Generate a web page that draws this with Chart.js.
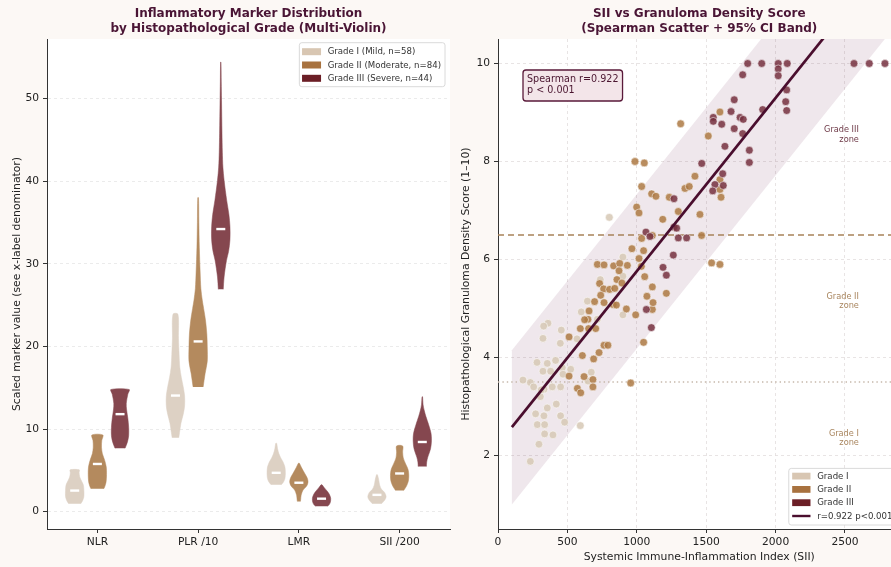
<!DOCTYPE html>
<html>
<head>
<meta charset="utf-8">
<script src="https://cdn.jsdelivr.net/npm/chart.js@4.4.1/dist/chart.umd.min.js"></script>
<style>
  html, body { margin: 0; padding: 0; background: #fcf8f5; overflow: hidden; }
  #wrap { position: relative; width: 891px; height: 567px; overflow: hidden; }
  canvas { position: absolute; top: 0; }
  #violin { left: 0; }
  #scatter { left: 455px; }
</style>
</head>
<body>
<div id="wrap">
  <canvas id="violin" width="460" height="567"></canvas>
  <canvas id="scatter" width="455" height="567"></canvas>
</div>
<script>
// ---------- left panel data ----------
const categories = ['NLR', 'PLR /10', 'LMR', 'SII /200'];
const gradeLabels = ['Grade I (Mild, n=58)', 'Grade II (Moderate, n=84)', 'Grade III (Severe, n=44)'];
const yTicksLeft = [0, 10, 20, 30, 40, 50];

// violin outline: [value, relative half width], top -> bottom
const nlrProfiles = [
  [[5.06,0.5],[4.7,0.48],[4.2,0.55],[3.7,0.75],[3.2,0.95],[2.6,1.0],[1.8,1.0],[1.3,0.85],[0.95,0.65]],
  [[9.28,0.6],[8.6,0.48],[7.8,0.45],[7.0,0.55],[6.2,0.8],[5.4,0.97],[4.5,1.0],[3.6,0.95],[3.0,0.8],[2.77,0.7]],
  [[14.78,1.0],[14.2,0.85],[13.1,0.68],[12.3,0.72],[11.3,0.85],[10.2,0.94],[9.2,0.94],[8.4,0.8],[7.67,0.55]]
];
const plrProfiles = [
  [[23.9,0.27],[21,0.33],[19,0.4],[17.5,0.47],[16.2,0.65],[15.1,0.85],[14,1.0],[12.8,1.0],[11.8,0.85],[10.7,0.6],[9.6,0.45],[8.95,0.36]],
  [[38.0,0.04],[35,0.08],[32,0.13],[29,0.22],[27,0.3],[25.6,0.45],[24.6,0.6],[23.2,0.8],[21.5,0.95],[19.8,1.0],[18.2,1.0],[16.7,0.76],[15.1,0.55]],
  [[54.4,0.02],[52,0.05],[49.8,0.08],[45.8,0.13],[43.5,0.17],[41.7,0.23],[40.1,0.36],[37.7,0.64],[36,0.88],[34.5,1.0],[32.9,1.0],[31.5,0.85],[30.4,0.62],[28.4,0.36],[26.9,0.27]]
];
const lmrProfiles = [
  [[8.27,0.05],[7.6,0.15],[7.0,0.3],[6.5,0.5],[6.0,0.75],[5.4,0.95],[4.7,1.0],[4.0,0.95],[3.6,0.8],[3.25,0.55]],
  [[5.86,0.05],[5.3,0.3],[4.7,0.6],[4.1,0.9],[3.6,1.0],[3.1,0.85],[2.6,0.45],[2.0,0.25],[1.5,0.2],[1.24,0.17]],
  [[3.25,0.05],[2.9,0.3],[2.5,0.6],[2.1,0.85],[1.6,1.0],[1.1,0.95],[0.8,0.8],[0.64,0.6]]
];
const siiProfiles = [
  [[4.46,0.05],[3.8,0.2],[3.2,0.3],[2.7,0.5],[2.3,0.85],[1.8,1.0],[1.4,0.85],[0.96,0.5]],
  [[7.95,0.33],[7.2,0.33],[6.5,0.4],[5.8,0.65],[5.1,0.92],[4.4,1.0],[3.7,0.95],[3.1,0.75],[2.57,0.45]],
  [[13.9,0.03],[13,0.08],[12.3,0.2],[11.5,0.4],[10.5,0.7],[9.5,0.95],[8.6,1.0],[7.6,0.9],[6.6,0.6],[6.0,0.48],[5.46,0.45]]
];
const nlrMedians = [2.55, 5.77, 11.8];
const plrMedians = [14.05, 20.6, 34.2];
const lmrMedians = [4.7, 3.5, 1.57];
const siiMedians = [2.03, 4.62, 8.43];

// ---------- right panel data ----------
// [SII, score]
const grade1Points = [
  [900,6.05],[737,5.59],[900,5.66],[644,5.15],[600,4.93],[716,4.78],[900,4.87],[360,4.70],[329,4.64],[456,4.56],
  [324,4.39],[449,4.29],[569,4.38],[281,3.90],[355,3.88],[415,3.94],[324,3.72],[379,3.72],[463,3.79],[524,3.76],
  [468,3.66],[672,3.70],[648,3.52],[180,3.54],[233,3.49],[257,3.40],[331,3.35],[391,3.40],[451,3.40],[305,3.20],
  [312,3.34],[355,2.97],[420,3.05],[271,2.85],[331,2.81],[451,2.81],[480,2.68],[283,2.63],[336,2.63],[593,2.61],
  [336,2.44],[396,2.42],[295,2.23],[233,1.88],[802,6.86]
];
const grade2Points = [
  [965,6.22],[1049,6.18],[716,5.90],[764,5.89],[833,5.87],[877,5.92],[932,5.88],[872,5.77],[1016,6.02],[1033,5.86],
  [732,5.51],[761,5.40],[804,5.39],[841,5.41],[857,5.59],[893,5.52],[1057,5.65],[1112,5.44],[1213,5.31],[740,5.27],
  [764,5.12],[829,5.08],[853,5.07],[696,5.14],[656,4.95],[648,4.78],[624,4.77],[593,4.59],[653,4.59],[704,4.59],
  [925,4.99],[992,4.87],[1112,4.98],[1073,5.25],[1117,5.12],[1049,4.31],[512,4.42],[764,4.25],[792,4.25],[728,4.10],
  [608,4.04],[689,3.97],[512,3.62],[620,3.61],[684,3.55],[572,3.37],[596,3.28],[684,3.40],[956,3.48],
  [1316,8.77],[987,8.0],[1054,7.97],[1419,7.70],[1035,7.49],[1107,7.34],[1138,7.29],[1347,7.45],[1378,7.49],[1234,7.27],
  [999,7.07],[1016,6.95],[1299,6.98],[1455,6.92],[1187,6.82],[1112,6.49],[1035,6.43],[1467,6.49],[1539,5.93],[1599,5.90],
  [1599,9.01],[1515,8.52],[1599,7.63],[1599,7.43],[1607,7.27]
];
const grade3Points = [
  [1189,5.84],[1213,5.68],[1069,4.98],[1105,4.61],
  [1268,7.24],[1066,6.56],[1095,6.47],[1268,6.66],[1287,6.64],[1299,6.44],[1359,6.44],[1263,6.09],
  [1799,10],[1900,10],[2019,10],[2084,10],[2565,10],[2675,10],[2788,10],[2019,9.89],[1763,9.77],[2019,9.75],
  [2080,9.46],[2073,9.22],[2080,9.04],[1702,9.26],[1907,9.06],[1679,9.02],[1551,8.90],[1551,8.82],[1612,8.76],
  [1744,8.90],[1767,8.86],[1702,8.67],[1763,8.57],[1635,8.31],[1811,8.23],[1811,7.98],[1468,7.96],[1619,7.75],
  [1563,7.53],[1623,7.51],[1547,7.40]
];
const fitSii = [100, 2790];
const fitScore = [2.58, 12.09];
const bandLow = [1.0, 10.51];
const bandHigh = [4.15, 13.66];
const thresholdScores = [6.5, 3.5];
const zoneNames = [['Grade III', 'zone'], ['Grade II', 'zone'], ['Grade I', 'zone']];
const zoneScores = [8.54, 5.14, 2.35];
const zoneSii = 2600;
const xTicksRight = [0, 500, 1000, 1500, 2000, 2500];
const yTicksRight = [2, 4, 6, 8, 10];
const scatterLegend = ['Grade I', 'Grade II', 'Grade III', 'r=0.922 p<0.001'];
const statText = ['Spearman r=0.922', 'p < 0.001'];

// ---------- styles ----------
const FONT = '"DejaVu Sans", sans-serif';
const TITLE_COLOR = '#4a1535';
const TICK_SIZE = 10.7;
const LABEL_SIZE = 10.8;
const swatch = ['#d8c6b2', '#a8723f', '#6b1e26'];
const violinFill = ['#ddd1c4', '#b48a5e', '#85474f'];
const pointFill = ['rgba(214,200,181,0.85)', 'rgba(173,121,67,0.85)', 'rgba(118,48,64,0.85)'];
const zoneColors = ['#6e3a48', '#a9865f', '#a9865f'];
const gradeOffsets = [-0.225, 0, 0.225];
const VIOLIN_HALF = 0.091;

Chart.defaults.font.family = FONT;
Chart.defaults.color = '#222';
Chart.defaults.animation = false;

const plotBg = {
  id: 'plotBg',
  beforeDraw(chart) {
    const { ctx, chartArea: a } = chart;
    ctx.save();
    ctx.fillStyle = '#ffffff';
    ctx.fillRect(a.left, a.top, a.width, a.height);
    ctx.restore();
  }
};

function drawLegend(ctx, items, o) {
  ctx.save();
  ctx.font = o.fontSize + 'px ' + FONT;
  const textW = Math.max(...items.map(it => ctx.measureText(it.label).width));
  const w = o.padL + o.swW + o.gap + textW + o.padR;
  const h = o.padT + o.rowH * (items.length - 1) + o.padB;
  const x = o.right - w;
  const y = o.top !== undefined ? o.top : o.bottom - h;
  ctx.beginPath();
  ctx.roundRect(x, y, w, h, 2.5);
  ctx.fillStyle = 'rgba(255,255,255,0.85)';
  ctx.fill();
  ctx.strokeStyle = '#d0d0d0';
  ctx.lineWidth = 0.8;
  ctx.stroke();
  ctx.textBaseline = 'middle';
  items.forEach((it, i) => {
    const cy = y + o.padT + i * o.rowH;
    if (it.kind === 'line') {
      ctx.strokeStyle = it.color;
      ctx.lineWidth = 2.4;
      ctx.beginPath();
      ctx.moveTo(x + o.padL, cy);
      ctx.lineTo(x + o.padL + o.swW, cy);
      ctx.stroke();
    } else {
      ctx.fillStyle = it.color;
      ctx.fillRect(x + o.padL, cy - o.swH / 2, o.swW, o.swH);
    }
    ctx.fillStyle = '#333';
    ctx.fillText(it.label, x + o.padL + o.swW + o.gap, cy + 0.5);
  });
  ctx.restore();
}

const violinLegend = {
  id: 'violinLegend',
  afterDraw(chart) {
    const a = chart.chartArea;
    drawLegend(chart.ctx, gradeLabels.map((l, i) => ({ label: l, color: swatch[i] })), {
      right: a.right - 5, top: a.top + 3.7, fontSize: 8.6,
      padL: 2.7, swW: 19, swH: 7, gap: 6.6, padR: 4, padT: 9, rowH: 13.3, padB: 8.4
    });
  }
};

const scatterNotes = {
  id: 'scatterNotes',
  afterDraw(chart) {
    const { ctx, chartArea: a, scales } = chart;
    ctx.save();
    // zone labels
    ctx.font = '8.2px ' + FONT;
    ctx.textAlign = 'right';
    ctx.textBaseline = 'middle';
    zoneNames.forEach((lines, i) => {
      const px = scales.x.getPixelForValue(zoneSii);
      const py = scales.y.getPixelForValue(zoneScores[i]);
      ctx.fillStyle = zoneColors[i];
      ctx.fillText(lines[0], px, py - 4.7);
      ctx.fillText(lines[1], px, py + 4.7);
    });
    // Spearman box
    ctx.font = '9.6px ' + FONT;
    ctx.textAlign = 'left';
    const tw = Math.max(...statText.map(t => ctx.measureText(t).width));
    const bx = a.left + 25, by = a.top + 31, bw = tw + 8, bh = 31;
    ctx.beginPath();
    ctx.roundRect(bx, by, bw, bh, 3);
    ctx.fillStyle = '#f3e5e9';
    ctx.fill();
    ctx.strokeStyle = '#5a1a3a';
    ctx.lineWidth = 1.3;
    ctx.stroke();
    ctx.fillStyle = '#4a1530';
    ctx.fillText(statText[0], bx + 4, by + 9.5);
    ctx.fillText(statText[1], bx + 4, by + 20.5);
    ctx.restore();

    drawLegend(ctx, scatterLegend.map((l, i) => ({
      label: l, color: i < 3 ? swatch[i] : '#4a0e2e', kind: i < 3 ? 'box' : 'line'
    })), {
      right: a.right - 4, bottom: a.bottom - 4, fontSize: 8.6,
      padL: 3.4, swW: 18.3, swH: 6.8, gap: 6.7, padR: 4, padT: 7.7, rowH: 13.3, padB: 9
    });
  }
};

// ---------- left chart ----------
function violinOutline(profile, cx) {
  const right = profile.slice().reverse().map(([v, w]) => ({ x: cx + w * VIOLIN_HALF, y: v }));
  const left = profile.map(([v, w]) => ({ x: cx - w * VIOLIN_HALF, y: v }));
  return right.concat(left);
}

const allProfiles = [nlrProfiles, plrProfiles, lmrProfiles, siiProfiles];
const allMedians = [nlrMedians, plrMedians, lmrMedians, siiMedians];
const violinSets = [];
allProfiles.forEach((group, c) => {
  group.forEach((profile, g) => {
    violinSets.push({
      type: 'line',
      data: violinOutline(profile, c + gradeOffsets[g]),
      backgroundColor: violinFill[g],
      borderColor: violinFill[g],
      borderWidth: 0.5,
      fill: 'shape',
      tension: 0.3,
      pointRadius: 0,
      order: 2
    });
  });
});
violinSets.push({
  type: 'scatter',
  data: allMedians.flatMap((m, c) => m.map((v, g) => ({ x: c + gradeOffsets[g], y: v }))),
  pointStyle: 'line',
  pointRadius: 4.5,
  pointBorderColor: '#ffffff',
  pointBorderWidth: 2.4,
  order: 0
});

const titleFont = { size: 12, weight: 'bold', lineHeight: 1.2 };

new Chart(document.getElementById('violin'), {
  type: 'scatter',
  data: { datasets: violinSets },
  plugins: [plotBg, violinLegend],
  options: {
    responsive: false,
    events: [],
    layout: { padding: { top: 0, left: 0, right: 10, bottom: 0 } },
    plugins: {
      legend: { display: false },
      tooltip: { enabled: false },
      title: {
        display: true, fullSize: false,
        text: ['Inflammatory Marker Distribution', 'by Histopathological Grade (Multi-Violin)'],
        color: TITLE_COLOR, font: titleFont,
        padding: { top: 6.8, bottom: 3.4 }
      }
    },
    scales: {
      x: {
        type: 'linear', min: -0.5, max: 3.5,
        afterBuildTicks: ax => { ax.ticks = categories.map((c, i) => ({ value: i })); },
        afterFit: s => { s.height = 38; },
        ticks: { callback: v => categories[v], font: { size: TICK_SIZE }, padding: 3, color: '#222' },
        grid: { display: true, drawOnChartArea: false, tickLength: 4, tickColor: '#333', tickWidth: 1 },
        border: { display: true, color: '#333', width: 1 }
      },
      y: {
        type: 'linear', min: -2.1, max: 57.2,
        afterBuildTicks: ax => { ax.ticks = yTicksLeft.map(v => ({ value: v })); },
        afterFit: s => { s.width = 47; },
        ticks: { font: { size: TICK_SIZE }, padding: 4, color: '#222' },
        grid: { color: '#e6e6e6', lineWidth: 0.8, tickLength: 4, tickColor: '#333', tickWidth: 1, tickBorderDash: [] },
        border: { display: true, color: '#333', width: 1, dash: [3, 3] },
        title: {
          display: true, text: 'Scaled marker value (see x-label denominator)',
          font: { size: LABEL_SIZE }, color: '#222', padding: { top: 10.5, bottom: 0 }
        }
      }
    }
  }
});

// ---------- right chart ----------
const toXY = pts => pts.map(([x, y]) => ({ x, y }));

new Chart(document.getElementById('scatter'), {
  type: 'scatter',
  data: {
    datasets: [
      {
        type: 'line',
        data: [
          { x: fitSii[0], y: bandLow[0] }, { x: fitSii[1], y: bandLow[1] },
          { x: fitSii[1], y: bandHigh[1] }, { x: fitSii[0], y: bandHigh[0] }
        ],
        fill: 'shape', backgroundColor: 'rgba(110,40,80,0.11)',
        borderWidth: 0, borderColor: 'rgba(0,0,0,0)', pointRadius: 0, order: 10
      },
      {
        type: 'line',
        data: [{ x: 0, y: thresholdScores[0] }, { x: 2900, y: thresholdScores[0] }],
        borderColor: '#a8835a', borderWidth: 1.4, borderDash: [6, 4], pointRadius: 0, order: 8, clip: 0
      },
      {
        type: 'line',
        data: [{ x: 0, y: thresholdScores[1] }, { x: 2900, y: thresholdScores[1] }],
        borderColor: '#c6b8aa', borderWidth: 1.3, borderDash: [1.4, 3], pointRadius: 0, order: 8, clip: 0
      },
      {
        data: toXY(grade1Points), pointRadius: 3.9, pointBackgroundColor: pointFill[0],
        pointBorderColor: 'rgba(255,255,255,0.9)', pointBorderWidth: 0.6, order: 5
      },
      {
        data: toXY(grade2Points), pointRadius: 3.9, pointBackgroundColor: pointFill[1],
        pointBorderColor: 'rgba(255,255,255,0.9)', pointBorderWidth: 0.6, order: 4
      },
      {
        data: toXY(grade3Points), pointRadius: 3.9, pointBackgroundColor: pointFill[2],
        pointBorderColor: 'rgba(255,255,255,0.9)', pointBorderWidth: 0.6, order: 3
      },
      {
        type: 'line',
        data: [{ x: fitSii[0], y: fitScore[0] }, { x: fitSii[1], y: fitScore[1] }],
        borderColor: '#4a0e2e', borderWidth: 2.7, pointRadius: 0, order: 1, clip: 0
      }
    ]
  },
  plugins: [plotBg, scatterNotes],
  options: {
    responsive: false,
    events: [],
    layout: { padding: { top: 0, left: 0, right: 9.5, bottom: 0 } },
    plugins: {
      legend: { display: false },
      tooltip: { enabled: false },
      title: {
        display: true, fullSize: false,
        text: ['SII vs Granuloma Density Score', '(Spearman Scatter + 95% CI Band)'],
        color: TITLE_COLOR, font: titleFont,
        padding: { top: 6.8, bottom: 3.4 }
      }
    },
    scales: {
      x: {
        type: 'linear', min: 0, max: 2900,
        afterBuildTicks: ax => { ax.ticks = xTicksRight.map(v => ({ value: v })); },
        afterFit: s => { s.height = 38; },
        ticks: { callback: v => String(v), font: { size: TICK_SIZE }, padding: 3, color: '#222' },
        grid: { color: '#e2dede', lineWidth: 0.8, tickLength: 4, tickColor: '#333', tickWidth: 1, tickBorderDash: [] },
        border: { display: true, color: '#333', width: 1, dash: [3, 3] },
        title: {
          display: true, text: 'Systemic Immune-Inflammation Index (SII)',
          font: { size: LABEL_SIZE }, color: '#222', padding: { top: 0, bottom: 3.2 }
        }
      },
      y: {
        type: 'linear', min: 0.5, max: 10.5,
        afterBuildTicks: ax => { ax.ticks = yTicksRight.map(v => ({ value: v })); },
        afterFit: s => { s.width = 43; },
        ticks: { font: { size: TICK_SIZE }, padding: 4, color: '#222' },
        grid: { color: '#e2dede', lineWidth: 0.8, tickLength: 4, tickColor: '#333', tickWidth: 1, tickBorderDash: [] },
        border: { display: true, color: '#333', width: 1, dash: [3, 3] },
        title: {
          display: true, text: 'Histopathological Granuloma Density Score (1–10)',
          font: { size: LABEL_SIZE }, color: '#222', padding: { top: 4.5, bottom: 0 }
        }
      }
    }
  }
});
</script>
</body>
</html>
